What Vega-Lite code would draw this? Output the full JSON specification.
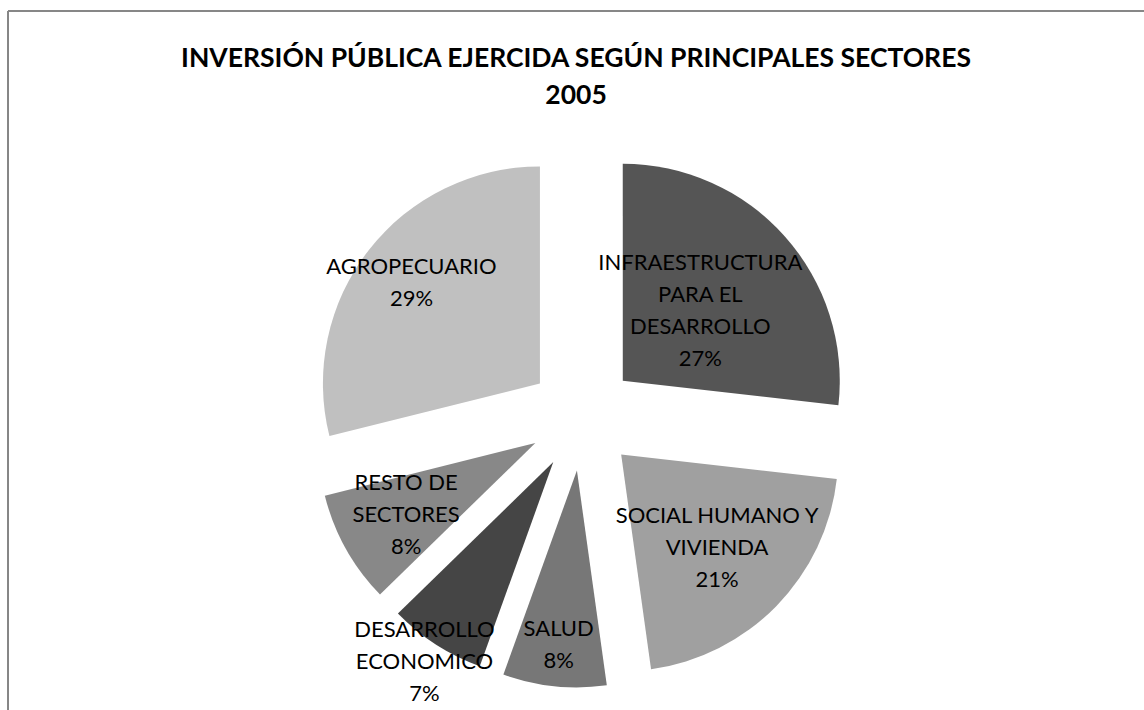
{
  "$schema": "https://vega.github.io/schema/vega-lite/v6.json",
  "width": 1136,
  "height": 699,
  "autosize": {"type": "none"},
  "padding": {"left": 8, "top": 11, "right": 0, "bottom": 0},
  "background": "white",
  "config": {
    "view": {"stroke": null},
    "font": "Lato"
  },
  "title": {
    "text": ["INVERSIÓN PÚBLICA EJERCIDA SEGÚN PRINCIPALES SECTORES", "2005"],
    "anchor": "middle",
    "orient": "top",
    "baseline": "top",
    "offset": -99,
    "font": "Lato",
    "fontSize": 26.5,
    "fontWeight": "bold",
    "color": "#000000",
    "lineHeight": 37
  },
  "data": {
    "values": [
      {"sector": "INFRAESTRUCTURA PARA EL DESARROLLO", "label": "INFRAESTRUCTURA\nPARA EL\nDESARROLLO\n27%", "value": 26.8, "order": 1},
      {"sector": "SOCIAL HUMANO Y VIVIENDA", "label": "SOCIAL HUMANO Y\nVIVIENDA\n21%", "value": 21.0, "order": 2},
      {"sector": "SALUD", "label": "SALUD\n8%", "value": 7.7, "order": 3},
      {"sector": "DESARROLLO ECONOMICO", "label": "DESARROLLO\nECONOMICO\n7%", "value": 7.2, "order": 4},
      {"sector": "RESTO DE SECTORES", "label": "RESTO DE\nSECTORES\n8%", "value": 8.4, "order": 5},
      {"sector": "AGROPECUARIO", "label": "AGROPECUARIO\n29%", "value": 28.9, "order": 6}
    ]
  },
  "transform": [
    {"window": [{"op": "sum", "field": "value", "as": "cum"}], "sort": [{"field": "order"}], "frame": [null, 0]},
    {"joinaggregate": [{"op": "sum", "field": "value", "as": "total"}]},
    {"calculate": "2*PI*(datum.cum-datum.value)/datum.total", "as": "t0"},
    {"calculate": "2*PI*datum.cum/datum.total", "as": "t1"},
    {"calculate": "(datum.t0+datum.t1)/2", "as": "mid"},
    {"calculate": "54*sin(datum.mid)", "as": "cx"},
    {"calculate": "54*cos(datum.mid)", "as": "cy"},
    {"calculate": "54+[104,134,176,238,148,163][datum.order-1]", "as": "lr"},
    {"calculate": "length(split(datum.label,'\\n'))", "as": "nl"},
    {"calculate": "datum.lr*sin(datum.mid)", "as": "lx"},
    {"calculate": "datum.lr*cos(datum.mid)+(datum.nl-1)*16", "as": "ly"}
  ],
  "layer": [
    {
      "mark": {"type": "arc", "radius": 217, "stroke": null},
      "encoding": {
        "x": {"field": "cx", "type": "quantitative", "scale": {"domain": [-574.5, 561.5], "nice": false, "zero": false}, "axis": null},
        "y": {"field": "cy", "type": "quantitative", "scale": {"domain": [-293.3, 405.7], "nice": false, "zero": false}, "axis": null},
        "theta": {"field": "t0", "type": "quantitative", "scale": null},
        "theta2": {"field": "t1"},
        "color": {
          "field": "sector",
          "type": "nominal",
          "scale": {
            "domain": ["INFRAESTRUCTURA PARA EL DESARROLLO", "SOCIAL HUMANO Y VIVIENDA", "SALUD", "DESARROLLO ECONOMICO", "RESTO DE SECTORES", "AGROPECUARIO"],
            "range": ["#555555", "#a0a0a0", "#777777", "#454545", "#888888", "#c0c0c0"]
          },
          "legend": null
        }
      }
    },
    {
      "mark": {"type": "text", "lineBreak": "\n", "fontSize": 22, "font": "Lato", "color": "#000000", "align": "center", "baseline": "middle", "lineHeight": 32},
      "encoding": {
        "x": {"field": "lx", "type": "quantitative", "axis": null},
        "y": {"field": "ly", "type": "quantitative", "axis": null},
        "text": {"field": "label"}
      }
    },
    {
      "mark": {"type": "rule", "color": "#878787", "strokeWidth": 1.3},
      "encoding": {"x": {"datum": -574.5, "type": "quantitative"}}
    },
    {
      "mark": {"type": "rule", "color": "#878787", "strokeWidth": 1.3},
      "encoding": {"y": {"datum": 405.7, "type": "quantitative"}}
    }
  ]
}
